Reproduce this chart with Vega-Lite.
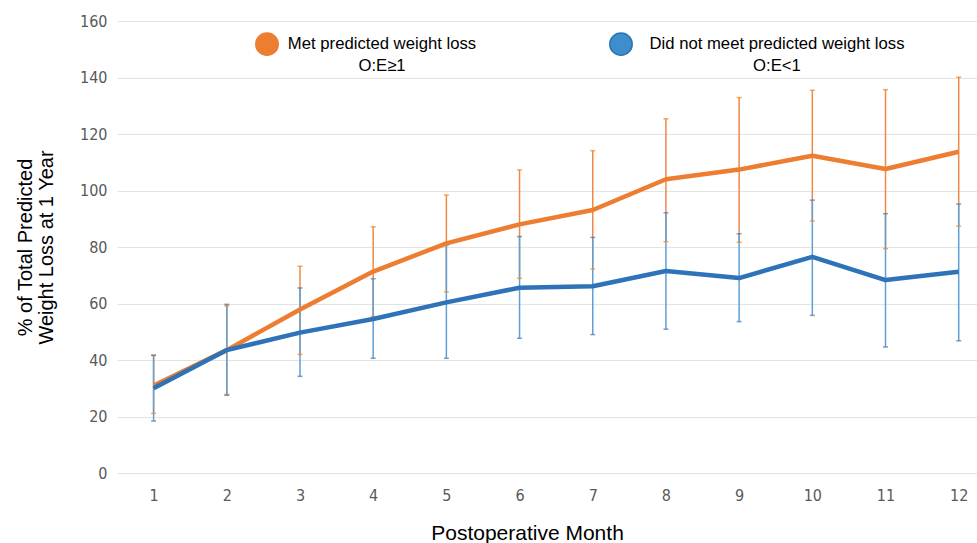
{
  "$schema": "https://vega.github.io/schema/vega-lite/v6.json",
  "width": 860,
  "height": 452,
  "autosize": "none",
  "padding": {"left": 117, "top": 21, "right": 0, "bottom": 70},
  "background": "white",
  "config": {
    "view": {"stroke": null},
    "font": "Liberation Sans"
  },
  "data": {
    "values": [
      {"month": 1, "group": "Met predicted weight loss|O:E≥1", "mean": 31.0, "lo": 21.1, "hi": 41.8},
      {"month": 2, "group": "Met predicted weight loss|O:E≥1", "mean": 43.5, "lo": 27.8, "hi": 59.2},
      {"month": 3, "group": "Met predicted weight loss|O:E≥1", "mean": 57.9, "lo": 42.0, "hi": 73.2},
      {"month": 4, "group": "Met predicted weight loss|O:E≥1", "mean": 71.3, "lo": 55.4, "hi": 87.2},
      {"month": 5, "group": "Met predicted weight loss|O:E≥1", "mean": 81.3, "lo": 64.1, "hi": 98.4},
      {"month": 6, "group": "Met predicted weight loss|O:E≥1", "mean": 88.0, "lo": 68.9, "hi": 107.3},
      {"month": 7, "group": "Met predicted weight loss|O:E≥1", "mean": 93.1, "lo": 72.2, "hi": 114.1},
      {"month": 8, "group": "Met predicted weight loss|O:E≥1", "mean": 104.0, "lo": 81.9, "hi": 125.4},
      {"month": 9, "group": "Met predicted weight loss|O:E≥1", "mean": 107.4, "lo": 81.7, "hi": 132.9},
      {"month": 10, "group": "Met predicted weight loss|O:E≥1", "mean": 112.3, "lo": 89.2, "hi": 135.5},
      {"month": 11, "group": "Met predicted weight loss|O:E≥1", "mean": 107.6, "lo": 79.4, "hi": 135.7},
      {"month": 12, "group": "Met predicted weight loss|O:E≥1", "mean": 113.7, "lo": 87.4, "hi": 140.1},
      {"month": 1, "group": "Did not meet predicted weight loss|O:E<1", "mean": 30.0, "lo": 18.4, "hi": 41.6},
      {"month": 2, "group": "Did not meet predicted weight loss|O:E<1", "mean": 43.5, "lo": 27.5, "hi": 59.7},
      {"month": 3, "group": "Did not meet predicted weight loss|O:E<1", "mean": 49.7, "lo": 34.2, "hi": 65.5},
      {"month": 4, "group": "Did not meet predicted weight loss|O:E<1", "mean": 54.5, "lo": 40.6, "hi": 68.8},
      {"month": 5, "group": "Did not meet predicted weight loss|O:E<1", "mean": 60.4, "lo": 40.6, "hi": 80.7},
      {"month": 6, "group": "Did not meet predicted weight loss|O:E<1", "mean": 65.6, "lo": 47.7, "hi": 83.7},
      {"month": 7, "group": "Did not meet predicted weight loss|O:E<1", "mean": 66.1, "lo": 49.0, "hi": 83.4},
      {"month": 8, "group": "Did not meet predicted weight loss|O:E<1", "mean": 71.5, "lo": 50.9, "hi": 92.1},
      {"month": 9, "group": "Did not meet predicted weight loss|O:E<1", "mean": 69.0, "lo": 53.6, "hi": 84.7},
      {"month": 10, "group": "Did not meet predicted weight loss|O:E<1", "mean": 76.5, "lo": 55.8, "hi": 96.6},
      {"month": 11, "group": "Did not meet predicted weight loss|O:E<1", "mean": 68.3, "lo": 44.6, "hi": 91.8},
      {"month": 12, "group": "Did not meet predicted weight loss|O:E<1", "mean": 71.2, "lo": 46.8, "hi": 95.2}
    ]
  },
  "encoding": {
    "x": {
      "field": "month",
      "type": "quantitative",
      "scale": {"domain": [0.5, 12.25], "nice": false, "zero": false},
      "axis": {
        "values": [1, 2, 3, 4, 5, 6, 7, 8, 9, 10, 11, 12],
        "format": "d",
        "grid": false,
        "domain": false,
        "ticks": false,
        "labelFont": "DejaVu Sans Condensed, Liberation Sans, sans-serif",
        "labelFontSize": 16,
        "labelColor": "#595959",
        "labelPadding": 14,
        "title": "Postoperative Month",
        "titleFont": "Liberation Sans",
        "titleFontSize": 21,
        "titleFontWeight": "normal",
        "titleColor": "#000000",
        "titleX": 410,
        "titleY": 60,
        "titleBaseline": "middle"
      }
    }
  },
  "layer": [
    {
      "mark": {"type": "rule", "strokeWidth": 1.5},
      "encoding": {
        "y": {
          "field": "lo",
          "type": "quantitative",
          "scale": {"domain": [0, 160], "nice": false},
          "axis": {
            "values": [0, 20, 40, 60, 80, 100, 120, 140, 160],
            "grid": true,
            "gridColor": "#E3E3E3",
            "gridWidth": 1.2,
            "domain": false,
            "ticks": false,
            "labelFont": "DejaVu Sans Condensed, Liberation Sans, sans-serif",
            "labelFontSize": 16,
            "labelColor": "#595959",
            "labelPadding": 10,
            "title": ["% of Total Predicted", "Weight Loss at 1 Year"],
            "titleFont": "Liberation Sans",
            "titleFontSize": 20,
            "titleFontWeight": "normal",
            "titleColor": "#000000",
            "titleLineHeight": 21,
            "titleAngle": -90,
            "titleBaseline": "middle",
            "titleAlign": "center",
            "titleX": -92,
            "titleY": 226
          }
        },
        "y2": {"field": "hi"},
        "color": {
          "field": "group",
          "type": "nominal",
          "scale": {"domain": ["Met predicted weight loss|O:E≥1", "Did not meet predicted weight loss|O:E<1"], "range": ["#EE8A45", "#5E9FD8"]},
          "legend": null
        }
      }
    },
    {
      "mark": {"type": "tick", "thickness": 1.5, "size": 5, "orient": "horizontal"},
      "encoding": {
        "y": {"field": "lo", "type": "quantitative"},
        "color": {"field": "group", "type": "nominal", "legend": null}
      }
    },
    {
      "mark": {"type": "tick", "thickness": 1.5, "size": 5, "orient": "horizontal"},
      "encoding": {
        "y": {"field": "hi", "type": "quantitative"},
        "color": {"field": "group", "type": "nominal", "legend": null}
      }
    },
    {
      "mark": {"type": "line", "strokeWidth": 4.5, "strokeJoin": "round"},
      "encoding": {
        "y": {"field": "mean", "type": "quantitative"},
        "color": {
          "field": "group",
          "type": "nominal",
          "scale": {"domain": ["Met predicted weight loss|O:E≥1", "Did not meet predicted weight loss|O:E<1"], "range": ["#ED7D31", "#2E73B8"]},
          "legend": {
            "title": null,
            "orient": "none",
            "legendX": 138,
            "legendY": 11,
            "direction": "horizontal",
            "columns": 2,
            "columnPadding": 129,
            "symbolType": "circle",
            "symbolSize": 500,
            "symbolStrokeWidth": 1.5,
            "labelFont": "Liberation Sans",
            "labelFontSize": 16.7,
            "labelColor": "#000000",
            "labelLimit": 400,
            "labelOffset": 8,
            "labelExpr": "split(datum.label, '|')",
            "encode": {
              "symbols": {
                "update": {
                  "fill": {"signal": "datum.index === 0 ? '#ED7D31' : '#3D8ECB'"},
                  "stroke": {"value": "#2E6DB4"},
                  "opacity": {"value": 1},
                  "fillOpacity": {"value": 1}
                }
              },
              "labels": {
                "update": {
                  "align": {"value": "center"},
                  "baseline": {"value": "alphabetic"},
                  "lineHeight": {"value": 22},
                  "dy": {"value": 5},
                  "dx": {"signal": "datum.index === 0 ? 95 : 136"}
                }
              }
            }
          }
        }
      }
    }
  ],
  "resolve": {"scale": {"color": "independent"}}
}
